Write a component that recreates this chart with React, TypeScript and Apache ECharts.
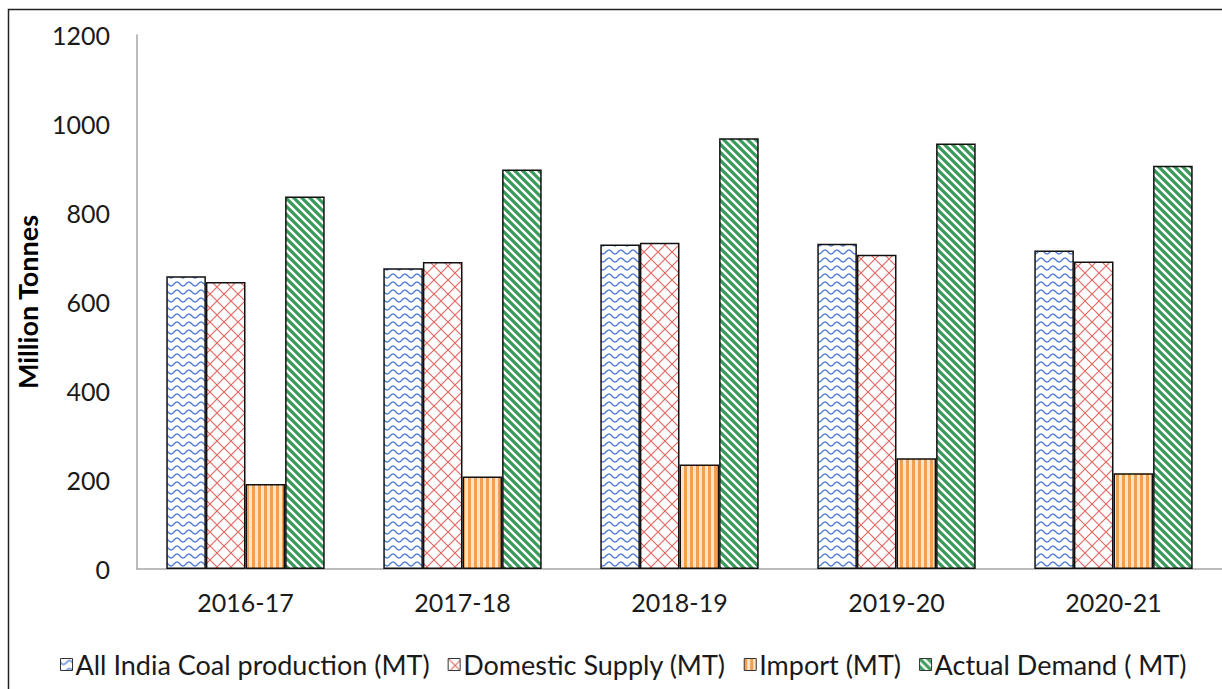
import React, { useEffect, useRef } from "react";
import * as echarts from "echarts";

const categories = ["2016-17", "2017-18", "2018-19", "2019-20", "2020-21"];
const seriesNames = [
  "All India Coal production (MT)",
  "Domestic Supply (MT)",
  "Import (MT)",
  "Actual Demand ( MT)",
];
const production = [658, 676, 729, 731, 716];
const domesticSupply = [645, 690, 733, 706, 691];
const imports = [191, 208, 235, 249, 215];
const actualDemand = [837, 898, 968, 956, 906];
const yTicks = [0, 200, 400, 600, 800, 1000, 1200];

function makeCanvas(w: number, h: number, draw: (ctx: CanvasRenderingContext2D) => void) {
  const c = document.createElement("canvas");
  c.width = w;
  c.height = h;
  const ctx = c.getContext("2d")!;
  ctx.fillStyle = "#ffffff";
  ctx.fillRect(0, 0, w, h);
  draw(ctx);
  return { image: c.toDataURL(), repeat: "repeat", imageWidth: w, imageHeight: h } as any;
}

function wavePattern() {
  return makeCanvas(12, 8, (ctx) => {
    ctx.strokeStyle = "#4a78d4";
    ctx.lineWidth = 1.3;
    ctx.beginPath();
    for (let x = -1; x <= 13; x += 0.5) {
      const y = 4 + 2 * Math.sin((x / 12) * Math.PI * 2);
      if (x === -1) ctx.moveTo(x, y);
      else ctx.lineTo(x, y);
    }
    ctx.stroke();
  });
}

function crossPattern() {
  return makeCanvas(14, 14, (ctx) => {
    ctx.strokeStyle = "#e46a64";
    ctx.lineWidth = 1.2;
    ctx.beginPath();
    ctx.moveTo(-1, -1);
    ctx.lineTo(15, 15);
    ctx.moveTo(15, -1);
    ctx.lineTo(-1, 15);
    ctx.stroke();
  });
}

function vStripePattern() {
  return makeCanvas(6, 4, (ctx) => {
    ctx.fillStyle = "#fde3c8";
    ctx.fillRect(0, 0, 6, 4);
    ctx.fillStyle = "#f0a050";
    ctx.fillRect(0, 0, 3, 4);
  });
}

function diagPattern() {
  return makeCanvas(8, 8, (ctx) => {
    ctx.strokeStyle = "#3a9a5a";
    ctx.lineWidth = 3.2;
    ctx.beginPath();
    ctx.moveTo(-4, 4);
    ctx.lineTo(4, 12);
    ctx.moveTo(0, 0);
    ctx.lineTo(8, 8);
    ctx.moveTo(4, -4);
    ctx.lineTo(12, 4);
    ctx.stroke();
  });
}

export default function App() {
  const ref = useRef<HTMLDivElement>(null);
  useEffect(() => {
    document.body.style.margin = "0";
    const chart = echarts.init(ref.current!, undefined, { renderer: "svg" });
    const fills = [wavePattern(), crossPattern(), vStripePattern(), diagPattern()];
    const datasets = [production, domesticSupply, imports, actualDemand];
    const font = "Lato, 'Open Sans', sans-serif";
    chart.setOption({
      animation: false,
      backgroundColor: "#ffffff",
      textStyle: { fontFamily: font },
      grid: { left: 137, top: 35, right: 0, bottom: 120, containLabel: false },
      legend: {
        top: 646,
        left: 55,
        itemWidth: 12,
        itemHeight: 12,
        itemGap: 18,
        icon: "rect",
        itemStyle: { borderColor: "#333333", borderWidth: 1 },
        textStyle: { fontSize: 27, color: "#1a1a1a", fontFamily: font, padding: [0, 0, 0, -2] },
        data: seriesNames,
      },
      xAxis: {
        type: "category",
        data: categories,
        axisLine: { lineStyle: { color: "#a6a6a6", width: 1.5 } },
        axisTick: { show: false },
        axisLabel: { fontSize: 25, color: "#1a1a1a", margin: 20, fontFamily: font },
      },
      yAxis: {
        type: "value",
        min: 0,
        max: 1200,
        interval: 200,
        name: "Million Tonnes",
        nameLocation: "middle",
        nameGap: 96,
        nameRotate: 90,
        nameTextStyle: { fontSize: 27, fontWeight: "bold", color: "#000000", fontFamily: font },
        axisLine: { show: true, lineStyle: { color: "#a6a6a6", width: 1.5 } },
        axisTick: { show: false },
        splitLine: { show: false },
        axisLabel: {
          fontSize: 25,
          color: "#1a1a1a",
          margin: 27,
          fontFamily: font,
          formatter: (v: number) => (yTicks.includes(v) ? String(v) : ""),
        },
      },
      series: seriesNames.map((name, i) => ({
        name,
        type: "bar",
        data: datasets[i],
        barGap: "0%",
        barCategoryGap: "27%",
        itemStyle: { color: fills[i], borderColor: "#111111", borderWidth: 1.5 },
        emphasis: { disabled: true },
      })),
      graphic: [
        {
          type: "rect",
          left: 6,
          top: 7,
          shape: { width: 1300, height: 800 },
          style: { fill: "none", stroke: "#222222", lineWidth: 1.5 },
          silent: true,
          z: 100,
        },
      ],
    });
    return () => chart.dispose();
  }, []);
  return <div ref={ref} style={{ width: 1222, height: 689 }} />;
}
